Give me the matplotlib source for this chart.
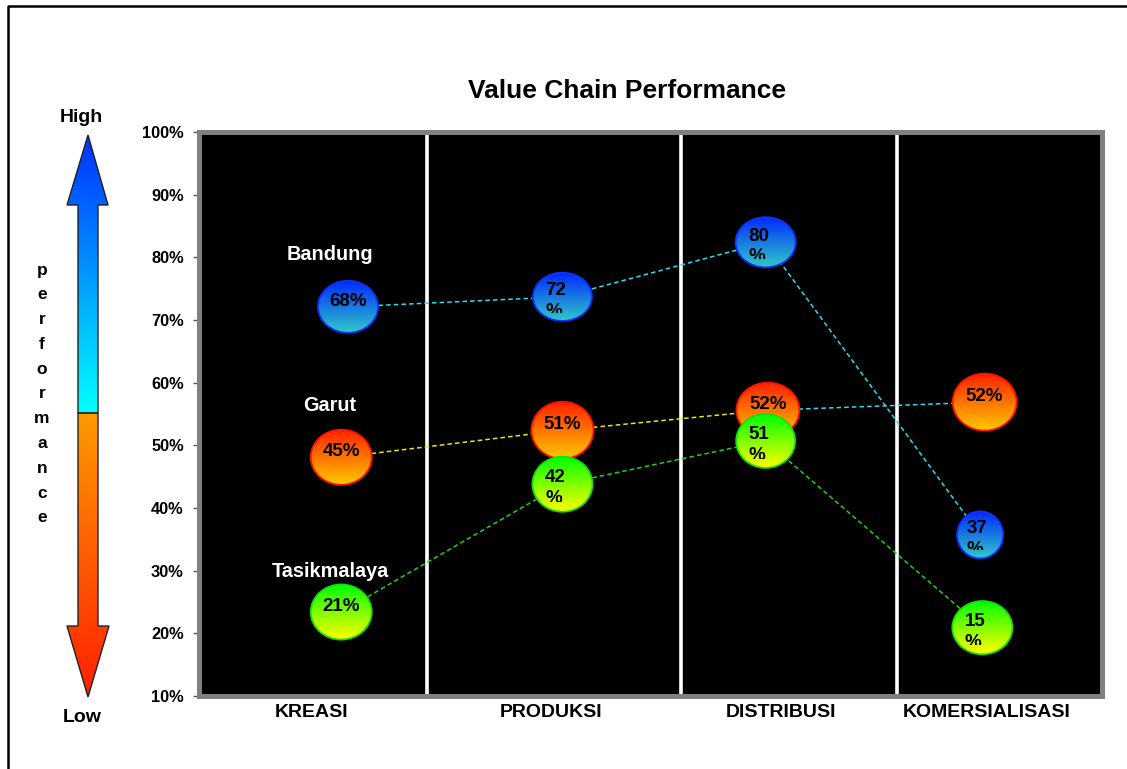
import numpy as np
import matplotlib.pyplot as plt
from matplotlib.patches import Ellipse, Polygon
from matplotlib.colors import LinearSegmentedColormap
from matplotlib.transforms import Bbox, TransformedBbox

plt.rcParams['font.family'] = ['Liberation Sans', 'DejaVu Sans']
plt.rcParams['font.weight'] = 'bold'

# categories along the value chain
categories = ['KREASI', 'PRODUKSI', 'DISTRIBUSI', 'KOMERSIALISASI']
cat_x = [0.50, 1.56, 2.58, 3.49]
dividers = [1.01, 2.135, 3.09]

cities = ['Bandung', 'Garut', 'Tasikmalaya']
city_label_x = [0.58, 0.58, 0.58]
city_label_y = [80.4, 56.3, 29.8]

# bubble positions (x on category scale, y in %), labels and sizes
bandung_x = [0.66, 1.61, 2.51, 3.46]
bandung_y = [72.1, 73.7, 82.4, 35.7]
bandung_lbl = ['68%', '72%', '80%', '37%']
bandung_w = [0.266, 0.261, 0.266, 0.204]
bandung_h = [8.3, 7.7, 8.0, 7.5]

garut_x = [0.63, 1.61, 2.52, 3.48]
garut_y = [48.1, 52.4, 55.6, 56.9]
garut_lbl = ['45%', '51%', '52%', '52%']
garut_w = [0.270, 0.275, 0.279, 0.283]
garut_h = [8.8, 9.1, 8.8, 9.1]

tasik_x = [0.63, 1.61, 2.51, 3.47]
tasik_y = [23.4, 43.8, 50.7, 20.9]
tasik_lbl = ['21%', '42%', '51%', '15%']
tasik_w = [0.270, 0.266, 0.261, 0.266]
tasik_h = [8.8, 8.8, 8.6, 8.5]

yticks = [10, 20, 30, 40, 50, 60, 70, 80, 90, 100]

W, H = 1127, 769
fig = plt.figure(figsize=(W / 100, H / 100), dpi=100)

# background axes in pixel coordinates for arrow, border, title
ax0 = fig.add_axes([0, 0, 1, 1], zorder=0)
ax0.set_xlim(0, W); ax0.set_ylim(H, 0); ax0.axis('off')


def grad_fill(a, patch, c_top, c_bot, extent, z):
    cmap = LinearSegmentedColormap.from_list('g', [c_bot, c_top])
    g = np.linspace(0, 1, 128).reshape(-1, 1)
    im = a.imshow(g, cmap=cmap, extent=extent, origin='lower', aspect='auto',
                  zorder=z, interpolation='bilinear')
    im.set_clip_path(patch)


# performance arrow
up = Polygon([(88, 135), (108, 205), (98, 205), (98, 413), (78, 413), (78, 205), (67, 205)],
             closed=True, fc='none', ec='#222222', lw=1, zorder=3)
dn = Polygon([(78, 413), (98, 413), (98, 626), (109, 626), (88, 697), (67, 626), (78, 626)],
             closed=True, fc='none', ec='#222222', lw=1, zorder=3)
ax0.add_patch(up); ax0.add_patch(dn)
grad_fill(ax0, up, '#0030FF', '#00FFFF', (67, 109, 413, 135), 2)
grad_fill(ax0, dn, '#FF9A00', '#FF2000', (67, 109, 697, 413), 2)
ax0.text(81, 118, 'High', ha='center', va='center', fontsize=14)
ax0.text(82, 717, 'Low', ha='center', va='center', fontsize=14)
for i, ch in enumerate('performance'):
    ax0.text(42, 270 + i * 24.8, ch, ha='center', va='center', fontsize=12.5)

# outer frame (top and left edges visible)
ax0.plot([8, 8, W + 5], [H + 5, 6, 6], color='black', lw=1.8, clip_on=False)
ax0.set_xlim(0, W); ax0.set_ylim(H, 0)

fig.text(627 / W, 1 - 91 / H, 'Value Chain Performance', ha='center', va='center',
         fontsize=19, weight='bold')

# main chart
ax = fig.add_axes([199 / W, 1 - 696 / H, 903 / W, 564 / H], zorder=1)
ax.set_facecolor('black')
for s in ax.spines.values():
    s.set_color('#808080'); s.set_linewidth(3.6)
for d in dividers:
    ax.axvline(d, color='white', lw=2.6, zorder=1)
ax.set_xlim(0, 4); ax.set_ylim(10, 100)

series = [
    (bandung_x, bandung_y, bandung_lbl, bandung_w, bandung_h,
     ['#30D8F0', '#30D8F0', '#30D8F0'], '#0028FF', '#30C8C8', '#1030FF', [False, True, True, True]),
    (garut_x, garut_y, garut_lbl, garut_w, garut_h,
     ['#F0E020', '#F0E020', '#30D8F0'], '#FF2000', '#FFC800', '#FF1000', [False, False, False, False]),
    (tasik_x, tasik_y, tasik_lbl, tasik_w, tasik_h,
     ['#20D020', '#20D020', '#20D020'], '#00FF00', '#FFFF00', '#10E010', [False, True, True, True]),
]

for k, (xs, ys, lbls, ws, hs, segc, ctop, cbot, edge, wrap) in enumerate(series):
    z = 3 + k * 3
    for i in range(len(xs) - 1):
        ax.plot(xs[i:i + 2], ys[i:i + 2], color=segc[i], lw=1.1, ls=(0, (3, 2)), zorder=2)
    for x, y, lb, w, h, wr in zip(xs, ys, lbls, ws, hs, wrap):
        e = Ellipse((x, y), w, h, fc='none', ec=edge, lw=1.3, zorder=z + 1)
        ax.add_patch(e)
        grad_fill(ax, e, ctop, cbot, (x - w / 2, x + w / 2, y - h / 2, y + h / 2), z)
        if wr:
            dx = -0.29 * w * 225.75 * 0.72
            ax.annotate(lb[:-1], (x, y), xytext=(dx, 4.5), textcoords='offset points',
                        ha='left', va='center', fontsize=13.5, color='black', zorder=z + 2)
            t = ax.annotate('%', (x, y), xytext=(dx, -10.5), textcoords='offset points',
                            ha='left', va='center', fontsize=13.5, color='black', zorder=z + 2)
            # text box of the label cuts the second line
            t.set_clip_box(TransformedBbox(Bbox([[x - w, y - 0.33 * h], [x + w, y + h]]),
                                           ax.transData))
            t.set_clip_on(True)
        else:
            ax.annotate(lb, (x, y), xytext=(0, 4), textcoords='offset points',
                        ha='center', va='center', fontsize=13.5, color='black', zorder=z + 2)

for name, cx, cy in zip(cities, city_label_x, city_label_y):
    ax.text(cx, cy, name, color='white', ha='center', va='center', fontsize=14.3, zorder=20)

ax.set_xlim(0, 4); ax.set_ylim(10, 100)
ax.set_yticks(yticks)
ax.set_yticklabels([f'{v}%' for v in yticks])
ax.set_xticks(cat_x)
ax.set_xticklabels(categories)
ax.tick_params(axis='y', length=4, width=1, color='#555555', labelsize=11.8, pad=7)
ax.tick_params(axis='x', length=0, labelsize=14, pad=6)

fig.savefig('out.png', dpi=100)
